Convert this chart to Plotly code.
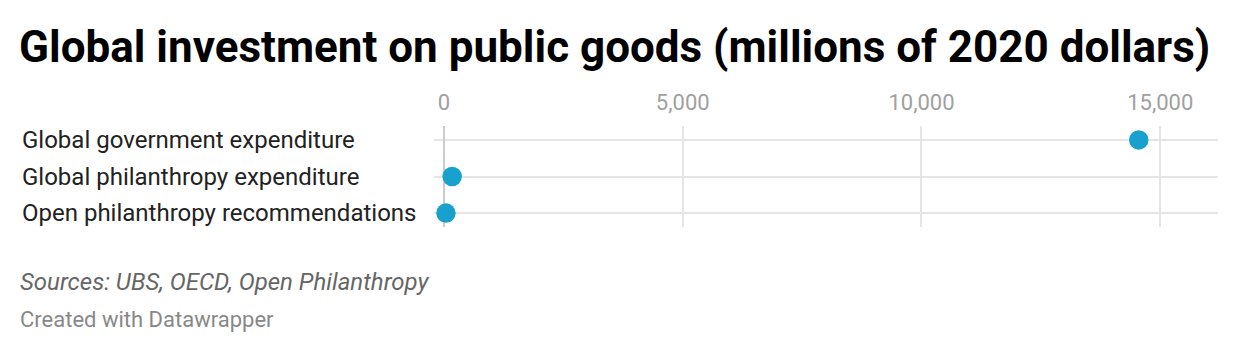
import plotly.graph_objects as go

categories = ["Global government expenditure", "Global philanthropy expenditure", "Open philanthropy recommendations"]
values = [14550, 170, 40]
tick_vals = [0, 5000, 10000, 15000]
tick_text = ["0", "5,000", "10,000", "15,000"]

W, H = 1240, 354
L, R, T, B = 434, 22, 126, 127
PW, PH = W - L - R, H - T - B


def px_x(px):
    return (px - L) / PW


def px_y(py):
    return (H - B - py) / PH


fig = go.Figure()
fig.add_trace(go.Scatter(
    x=values, y=categories, mode="markers",
    marker=dict(size=19.5, color="#18a1cd", line=dict(width=0)),
    hoverinfo="x+y", cliponaxis=False,
))

for c in categories:
    fig.add_annotation(x=px_x(20), xref="paper", y=c, yref="y", text=c,
                       showarrow=False, xanchor="left", yanchor="middle",
                       font=dict(family="Roboto", size=24, color="#222222"))

fig.add_annotation(x=px_x(18), xref="paper", y=px_y(282), yref="paper",
                   text="<i>Sources: UBS, OECD, Open Philanthropy</i>", showarrow=False,
                   xanchor="left", yanchor="middle",
                   font=dict(family="Roboto", size=24, color="#666666"))
fig.add_annotation(x=px_x(18), xref="paper", y=px_y(319), yref="paper",
                   text="Created with Datawrapper", showarrow=False,
                   xanchor="left", yanchor="middle",
                   font=dict(family="Roboto", size=22, color="#888888"))

fig.update_layout(
    width=W, height=H,
    margin=dict(l=L, r=R, t=T, b=B, pad=0),
    paper_bgcolor="white", plot_bgcolor="white",
    showlegend=False,
    title=dict(text="<b>Global investment on public goods (millions of 2020 dollars)</b>",
               x=19 / W, xref="container", xanchor="left",
               y=1 - 47 / H, yref="container", yanchor="middle",
               font=dict(family="Roboto", size=44, color="#000000")),
    xaxis=dict(range=[-210, 16210], side="top", tickvals=tick_vals, ticktext=tick_text,
               showgrid=True, gridcolor="#e5e5e5", gridwidth=1.5,
               zeroline=True, zerolinecolor="#cccccc", zerolinewidth=1.5,
               showline=False, ticks="outside", ticklen=6, tickcolor="rgba(0,0,0,0)",
               tickfont=dict(family="Roboto", size=22, color="#a0a0a0"), fixedrange=True),
    yaxis=dict(range=[2.38, -0.38], type="category", categoryorder="array",
               categoryarray=categories, showgrid=True, gridcolor="#e5e5e5", gridwidth=1.5,
               showticklabels=False, zeroline=False, showline=False, ticks="", fixedrange=True),
)

fig.write_html("out.html")
